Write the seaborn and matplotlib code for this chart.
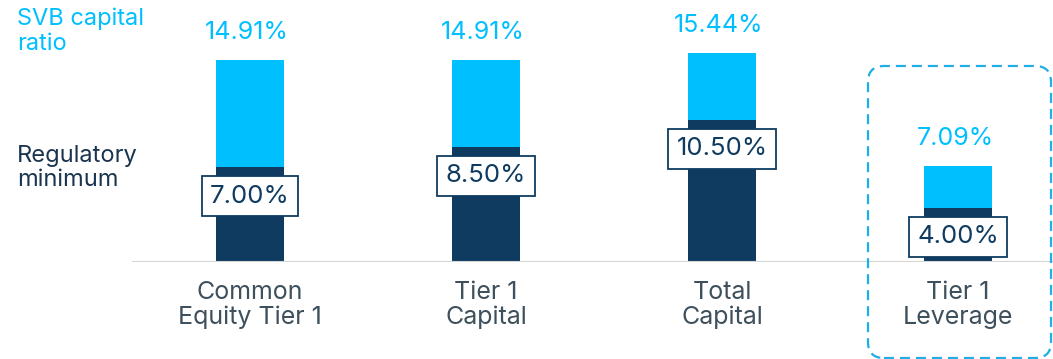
import matplotlib
matplotlib.use("Agg")
import matplotlib.pyplot as plt
import seaborn as sns
import pandas as pd
from matplotlib.patches import FancyBboxPatch
from matplotlib.transforms import IdentityTransform

categories = ["Common\nEquity Tier 1", "Tier 1\nCapital", "Total\nCapital", "Tier 1\nLeverage"]
svb_ratio = [14.91, 14.91, 15.44, 7.09]
reg_minimum = [7.00, 8.50, 10.50, 4.00]

LIGHT = "#00BFFF"
NAVY = "#0F3B60"
GREY_TXT = "#3E505C"

sns.set_theme(style="white")
plt.rcParams["font.family"] = ["Inter", "DejaVu Sans"]

W, H, DPI = 1053, 359, 100
fig = plt.figure(figsize=(W / DPI, H / DPI), dpi=DPI)
base_px = 262
ax = fig.add_axes([0, (H - base_px) / H, 1, base_px / H])

df = pd.DataFrame({"cat": categories, "svb": svb_ratio, "reg": reg_minimum})
sns.barplot(data=df, x="cat", y="svb", color=LIGHT, saturation=1, width=0.284, ax=ax, linewidth=0)
sns.barplot(data=df, x="cat", y="reg", color=NAVY, saturation=1, width=0.284, ax=ax, linewidth=0)

spacing = 236
ax.set_xlim(-250 / spacing, (W - 250) / spacing)
ax.set_ylim(0, base_px / 13.55)
ax.axis("off")
ax.axhline(0, xmin=133 / W, xmax=1, color="#D5D5D5", lw=1.5, zorder=1)

for i, (c, s, r) in enumerate(zip(categories, svb_ratio, reg_minimum)):
    ax.annotate(f"{s:.2f}%", (i, s), xytext=(-3, 27), textcoords="offset pixels",
                ha="center", va="center", color=LIGHT, fontsize=18)
    ax.annotate(f"{r:.2f}%", (i, r), xytext=(0, -29), textcoords="offset pixels",
                ha="center", va="center", color=NAVY, fontsize=18.5,
                bbox=dict(boxstyle="square,pad=0.33", fc="white", ec=NAVY, lw=1.3))
    ax.annotate(c, (i, 0), xytext=(0, -43), textcoords="offset pixels",
                ha="center", va="center", color=GREY_TXT, fontsize=18,
                linespacing=1.1, annotation_clip=False)

fig.text(17 / W, 1 - 31 / H, "SVB capital\nratio", ha="left", va="center",
         color=LIGHT, fontsize=17, linespacing=1.2)
fig.text(17 / W, 1 - 168 / H, "Regulatory\nminimum", ha="left", va="center",
         color="#1B3550", fontsize=17, linespacing=1.15)

box = FancyBboxPatch((868, 1), 1051 - 868, H - 66 - 1,
                     boxstyle="round,pad=0,rounding_size=16",
                     transform=IdentityTransform(), fill=False,
                     ec="#1FAEE6", lw=1.6, linestyle=(0, (4.5, 2.7)))
fig.patches.append(box)

fig.savefig("out.png", dpi=DPI)
